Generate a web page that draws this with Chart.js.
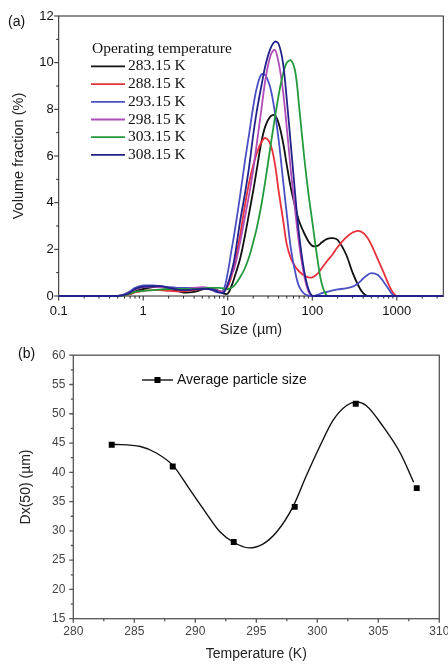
<!DOCTYPE html>
<html>
<head>
<meta charset="utf-8">
<script src="https://cdn.jsdelivr.net/npm/chart.js@4.4.1/dist/chart.umd.min.js"></script>
<style>
    body { margin: 0; background: #fff; }
    #wrap { position: relative; width: 448px; height: 664px; }
    .panel { position: absolute; left: 0; width: 448px; }
</style>
</head>
<body>
<div id="wrap">
    <div class="panel" style="top:0;height:340px"><canvas id="chartA"></canvas></div>
    <div class="panel" style="top:340px;height:324px"><canvas id="chartB"></canvas></div>
</div>
<script>
// (a) particle size distribution, size in um (log axis)
const sizes = [0.1, 0.5, 0.6, 0.7, 0.8, 1, 1.3, 1.6, 2, 2.5, 3, 4, 5, 6, 7, 8, 9, 10, 11, 12, 14, 16, 18, 20, 22, 25, 28, 32, 36, 40, 45, 50, 56, 63, 70, 80, 90, 100, 115, 130, 150, 175, 200, 250, 300, 350, 400, 450, 500, 600, 700, 800, 900, 1000, 3550];

const vf283 = [0, 0, 0.05, 0.12, 0.2, 0.3, 0.38, 0.4, 0.32, 0.22, 0.15, 0.18, 0.28, 0.33, 0.3, 0.2, 0.1, 0.1, 0.4, 0.8, 1.6, 2.6, 3.6, 4.5, 5.4, 6.6, 7.3, 7.7, 7.75, 7.4, 6.6, 5.6, 4.6, 3.8, 3.2, 2.7, 2.35, 2.15, 2.15, 2.3, 2.45, 2.48, 2.4, 1.8, 1.0, 0.45, 0.12, 0, 0, 0, 0, 0, 0, 0, 0];
const vf288 = [0, 0, 0.03, 0.08, 0.15, 0.22, 0.25, 0.25, 0.22, 0.2, 0.2, 0.25, 0.3, 0.3, 0.25, 0.2, 0.2, 0.4, 0.8, 1.4, 2.6, 3.9, 4.9, 5.6, 6.1, 6.6, 6.77, 6.5, 5.7, 4.5, 3.3, 2.2, 1.6, 1.25, 1.05, 0.88, 0.8, 0.8, 0.95, 1.2, 1.5, 1.8, 2.1, 2.5, 2.72, 2.79, 2.7, 2.5, 2.2, 1.55, 1.0, 0.5, 0.15, 0, 0];
const vf293 = [0, 0, 0.08, 0.2, 0.35, 0.45, 0.45, 0.42, 0.38, 0.35, 0.35, 0.35, 0.33, 0.3, 0.2, 0.15, 0.3, 1.0, 1.9, 2.7, 4.3, 5.8, 7.0, 8.1, 8.9, 9.5, 9.45, 8.9, 7.9, 6.7, 5.0, 3.5, 2.0, 1.0, 0.4, 0.1, 0.02, 0, 0.05, 0.12, 0.18, 0.24, 0.28, 0.33, 0.4, 0.55, 0.75, 0.9, 0.98, 0.9, 0.6, 0.3, 0.05, 0, 0];
const vf298 = [0, 0, 0.05, 0.15, 0.28, 0.38, 0.4, 0.38, 0.33, 0.3, 0.3, 0.35, 0.38, 0.35, 0.28, 0.2, 0.2, 0.5, 0.9, 1.2, 2.3, 3.4, 4.4, 5.4, 6.5, 8.0, 9.3, 10.3, 10.55, 10.0, 8.8, 7.2, 5.3, 3.6, 2.2, 0.9, 0.2, 0, 0, 0, 0, 0, 0, 0, 0, 0, 0, 0, 0, 0, 0, 0, 0, 0, 0];
const vf303 = [0, 0, 0.03, 0.1, 0.18, 0.22, 0.25, 0.28, 0.3, 0.3, 0.3, 0.3, 0.32, 0.35, 0.35, 0.35, 0.32, 0.3, 0.35, 0.45, 0.8, 1.2, 1.7, 2.3, 2.9, 3.9, 5.0, 6.4, 7.6, 8.6, 9.5, 10.0, 10.1, 9.6, 8.1, 6.0, 4.4, 3.2, 1.6, 0.5, 0, 0, 0, 0, 0, 0, 0, 0, 0, 0, 0, 0, 0, 0, 0];
const vf308 = [0, 0, 0.05, 0.15, 0.3, 0.4, 0.42, 0.42, 0.35, 0.28, 0.25, 0.28, 0.3, 0.3, 0.25, 0.15, 0.15, 0.5, 1.0, 1.6, 3.2, 4.4, 5.6, 6.9, 7.9, 9.0, 9.9, 10.6, 10.9, 10.8, 10.0, 8.4, 6.4, 4.3, 2.6, 1.1, 0.3, 0, 0, 0, 0, 0, 0, 0, 0, 0, 0, 0, 0, 0, 0, 0, 0, 0, 0];

const seriesLabels = ['283.15 K', '288.15 K', '293.15 K', '298.15 K', '303.15 K', '308.15 K'];
const seriesColors = ['#111111', '#e8313a', '#4a50c4', '#b04cb8', '#239a3c', '#22228a'];
const sizeTickValues = [0.1, 1, 10, 100, 1000];
const sizeTickLabels = ['0.1', '1', '10', '100', '1000'];

// (b) Dx(50) against operating temperature
const temperatures = [283.15, 288.15, 293.15, 298.15, 303.15, 308.15];
const avgSize = [44.7, 41.0, 28.1, 34.1, 51.7, 37.3];
// smooth curve as drawn in the figure
const fitTemps = [283.15, 285.5, 286.8, 288.2, 289.5, 290.9, 292.0, 293.1, 294.4, 295.5, 296.7, 298.0, 299.1, 300.2, 301.3, 302.4, 303.2, 304.0, 305.4, 306.8, 307.9];
const fitSize = [44.8, 44.4, 43.3, 41.1, 37.2, 33.0, 29.9, 28.1, 27.1, 27.7, 29.9, 34.1, 39.4, 44.4, 48.9, 51.4, 52.0, 51.4, 47.8, 43.3, 38.3];

const SANS = '"Liberation Sans", Arial, sans-serif';

function pointsOf(xs, ys) {
    return xs.map((x, i) => ({ x: x, y: ys[i] }));
}

// frame round the plot area plus outward tick marks
function makeFrame(cfg) {
    return {
        id: 'frame',
        beforeDatasetsDraw(chart) {
            const { ctx, chartArea: area } = chart;
            const xs = chart.scales.x;
            const ys = chart.scales.y;
            ctx.save();
            ctx.strokeStyle = cfg.color;
            ctx.lineWidth = cfg.width;
            ctx.strokeRect(area.left, area.top, area.right - area.left, area.bottom - area.top);
            ctx.beginPath();
            xs.ticks.forEach((t) => {
                const px = xs.getPixelForValue(t.value);
                const len = cfg.xMajor(t.value) ? cfg.major : cfg.minor;
                ctx.moveTo(px, area.bottom);
                ctx.lineTo(px, area.bottom + len);
            });
            ys.ticks.forEach((t) => {
                const py = ys.getPixelForValue(t.value);
                const len = cfg.yMajor(t.value) ? cfg.major : cfg.minor;
                ctx.moveTo(area.left, py);
                ctx.lineTo(area.left - len, py);
            });
            ctx.stroke();
            ctx.restore();
        }
    };
}

function isPow10(v) {
    const l = Math.log10(v);
    return Math.abs(l - Math.round(l)) < 1e-6;
}

function isMultiple(v, step) {
    return Math.abs(v / step - Math.round(v / step)) < 1e-6;
}

const legendA = {
    id: 'legendA',
    afterDraw(chart) {
        const { ctx } = chart;
        ctx.save();
        ctx.font = '15.5px "Liberation Serif", "Times New Roman", serif';
        ctx.fillStyle = '#111';
        ctx.textBaseline = 'middle';
        ctx.textAlign = 'left';
        ctx.fillText('Operating temperature', 92, 49);
        seriesLabels.forEach((label, i) => {
            const y = 66.4 + i * 17.7;
            ctx.strokeStyle = seriesColors[i];
            ctx.lineWidth = 1.8;
            ctx.beginPath();
            ctx.moveTo(91, y);
            ctx.lineTo(125, y);
            ctx.stroke();
            ctx.fillText(label, 128, y);
        });
        ctx.font = '14px ' + SANS;
        ctx.fillText('(a)', 8, 22);
        ctx.restore();
    }
};

const legendB = {
    id: 'legendB',
    afterDraw(chart) {
        const { ctx } = chart;
        ctx.save();
        ctx.strokeStyle = '#111';
        ctx.lineWidth = 1.4;
        ctx.beginPath();
        ctx.moveTo(142, 40);
        ctx.lineTo(173, 40);
        ctx.stroke();
        ctx.fillStyle = '#000';
        ctx.fillRect(154.5, 37, 6, 6);
        ctx.font = '14px ' + SANS;
        ctx.textBaseline = 'middle';
        ctx.fillStyle = '#111';
        ctx.fillText('Average particle size', 177, 40);
        ctx.fillText('(b)', 18, 14);
        ctx.restore();
    }
};

const seriesA = [vf283, vf288, vf293, vf298, vf303, vf308];

new Chart(document.getElementById('chartA'), {
    type: 'line',
    data: {
        datasets: seriesA.map((vals, i) => ({
            label: seriesLabels[i],
            data: pointsOf(sizes, vals),
            borderColor: seriesColors[i],
            borderWidth: 1.8,
            pointRadius: 0,
            tension: 0.35,
            clip: 3,
            order: seriesA.length - i
        }))
    },
    options: {
        responsive: true,
        maintainAspectRatio: false,
        animation: false,
        layout: { padding: { left: 0, right: 4.7, top: 16, bottom: 0 } },
        scales: {
            x: {
                type: 'logarithmic',
                min: 0.1,
                max: 3550,
                grid: { display: false, drawTicks: false },
                border: { display: false },
                afterBuildTicks: (scale) => {
                    const list = [];
                    for (let e = -1; e <= 3; e++) {
                        for (let k = 1; k <= 9; k++) {
                            const v = k * Math.pow(10, e);
                            if (v <= 3550) list.push({ value: v });
                        }
                    }
                    scale.ticks = list;
                },
                afterFit: (scale) => { scale.height = 44; },
                ticks: {
                    autoSkip: false,
                    maxRotation: 0,
                    padding: 8,
                    color: '#111',
                    font: { family: SANS, size: 13 },
                    callback: (value) => {
                        const idx = sizeTickValues.findIndex((t) => Math.abs(Math.log10(t) - Math.log10(value)) < 1e-6);
                        return idx >= 0 ? sizeTickLabels[idx] : '';
                    }
                },
                title: {
                    display: true,
                    text: 'Size (µm)',
                    color: '#222',
                    font: { family: SANS, size: 14.5 },
                    padding: { top: 0, bottom: 1 }
                }
            },
            y: {
                min: 0,
                max: 12,
                grid: { display: false, drawTicks: false },
                border: { display: false },
                afterFit: (scale) => { scale.width = 58.7; },
                ticks: {
                    stepSize: 1,
                    autoSkip: false,
                    padding: 5,
                    color: '#111',
                    font: { family: SANS, size: 13 },
                    callback: (value) => (isMultiple(value, 2) ? String(value) : '')
                },
                title: {
                    display: true,
                    text: 'Volume fraction (%)',
                    color: '#222',
                    font: { family: SANS, size: 14.5 },
                    padding: { top: 10, bottom: 0 }
                }
            }
        },
        plugins: {
            legend: { display: false },
            tooltip: { enabled: false }
        }
    },
    plugins: [
        makeFrame({ color: '#222', width: 1, major: 4.5, minor: 2.5, xMajor: isPow10, yMajor: (v) => isMultiple(v, 2) }),
        legendA
    ]
});

new Chart(document.getElementById('chartB'), {
    type: 'scatter',
    data: {
        datasets: [
            {
                label: 'Average particle size',
                data: pointsOf(temperatures, avgSize),
                pointStyle: 'rect',
                pointRadius: 4.2,
                backgroundColor: '#000',
                borderColor: '#000',
                borderWidth: 0,
                showLine: false,
                order: 0
            },
            {
                label: 'curve',
                data: pointsOf(fitTemps, fitSize),
                showLine: true,
                borderColor: '#111',
                borderWidth: 1.4,
                pointRadius: 0,
                cubicInterpolationMode: 'monotone',
                order: 1
            }
        ]
    },
    options: {
        responsive: true,
        maintainAspectRatio: false,
        animation: false,
        layout: { padding: { left: 0, right: 8.7, top: 10.7, bottom: 0 } },
        scales: {
            x: {
                type: 'linear',
                min: 280,
                max: 310,
                grid: { display: false, drawTicks: false },
                border: { display: false },
                afterFit: (scale) => {
                    scale.height = 45.3;
                    scale.paddingLeft = 0;
                    scale.paddingRight = 0;
                },
                ticks: {
                    stepSize: 2.5,
                    autoSkip: false,
                    maxRotation: 0,
                    padding: 5.5,
                    color: '#444',
                    font: { family: SANS, size: 12 },
                    callback: (value) => (isMultiple(value, 5) ? String(value) : '')
                },
                title: {
                    display: true,
                    text: 'Temperature (K)',
                    color: '#222',
                    font: { family: SANS, size: 14 },
                    padding: { top: 0, bottom: 1 }
                }
            },
            y: {
                min: 15,
                max: 60,
                grid: { display: false, drawTicks: false },
                border: { display: false },
                afterFit: (scale) => { scale.width = 73.3; },
                ticks: {
                    stepSize: 2.5,
                    autoSkip: false,
                    padding: 8,
                    color: '#444',
                    font: { family: SANS, size: 12 },
                    callback: (value) => (isMultiple(value, 5) ? String(value) : '')
                },
                title: {
                    display: true,
                    text: 'Dx(50) (µm)',
                    color: '#222',
                    font: { family: SANS, size: 14 },
                    padding: { top: 18, bottom: 0 }
                }
            }
        },
        plugins: {
            legend: { display: false },
            tooltip: { enabled: false }
        }
    },
    plugins: [
        makeFrame({ color: '#555', width: 1.3, major: 4, minor: 2.5, xMajor: (v) => isMultiple(v, 5), yMajor: (v) => isMultiple(v, 5) }),
        legendB
    ]
});
</script>
</body>
</html>
